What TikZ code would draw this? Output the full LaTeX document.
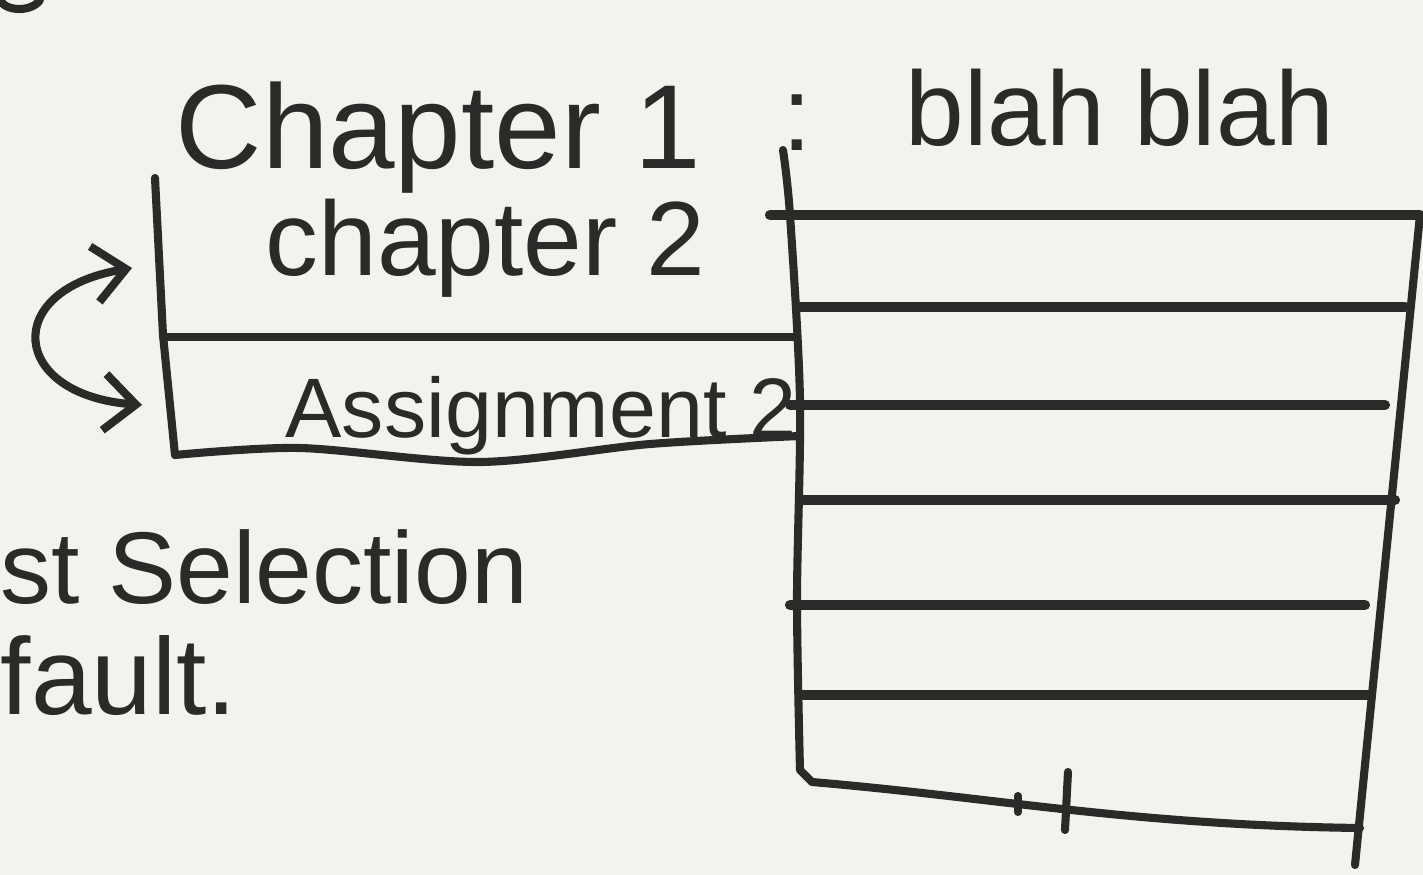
\documentclass[tikz,border=0pt]{standalone}
\usepackage{fontspec}
\setmainfont{Liberation Sans}
\usetikzlibrary{arrows.meta}
\definecolor{ink}{HTML}{2B2A28}
\definecolor{paper}{HTML}{F3F2EE}

\begin{document}
\begin{tikzpicture}[x=0.01cm,y=-0.01cm,line cap=round,line join=round,color=ink,
    pen/.style={line width=2.3pt},
    rule/.style={line width=2.9pt},
    word/.style={inner sep=0pt,anchor=base west},
    >={Straight Barb[length=9pt,width=16pt]}]
    \fill[paper] (0,0) rectangle (1423,875);
    \useasboundingbox (0,0) rectangle (1423,875);

    \node[word,font=\fontsize{34}{40}\selectfont] (ch1) at (175,168) {Chapter 1};
    \node[word,font=\fontsize{30}{36}\selectfont] (colon) at (782,150) {:};
    \node[word,font=\fontsize{30}{36}\selectfont] (blah) at (905,145) {blah blah};
    \node[word,font=\fontsize{30}{36}\selectfont] (ch2) at (265,275) {chapter 2};
    \node[word,font=\fontsize{24}{30}\selectfont] (asg) at (285,437) {Assignment 2};
    \node[word,font=\fontsize{29}{34}\selectfont] (sel) at (0,603) {st Selection};
    \node[word,font=\fontsize{31}{36}\selectfont] (dflt) at (0,714) {fault.};

    \coordinate (aTop) at (132,268);
    \coordinate (aBot) at (142,405);

    \draw[pen] (0,0) .. controls (6,12) and (32,12) .. (40,0);

    \draw[pen] (155,178) -- (163,335) -- (175,455);
    \draw[pen] (163,337) -- (795,337);
    \draw[pen] plot[smooth] coordinates {(175,455) (300,448) (480,462) (650,444) (800,436)};
    \draw[pen,<->] (aTop) .. controls (0,290) and (10,395) .. (aBot);

    \draw[pen] plot[smooth] coordinates {(783,150) (790,215) (800,400) (797,600) (800,770)}
      -- (812,782) .. controls (1000,798) and (1130,825) .. (1360,828);
    \draw[pen] (1420,215) -- (1355,865);
    \draw[rule] (770,215) -- (1420,215);
    \draw[rule] (800,307) -- (1405,307);
    \draw[rule] (790,405) -- (1385,405);
    \draw[rule] (800,500) -- (1395,500);
    \draw[rule] (790,605) -- (1365,605);
    \draw[rule] (800,695) -- (1370,695);
    \draw[pen] (1018,796) -- (1018,812);
    \draw[pen] (1068,772) -- (1065,830);
\end{tikzpicture}
\end{document}
